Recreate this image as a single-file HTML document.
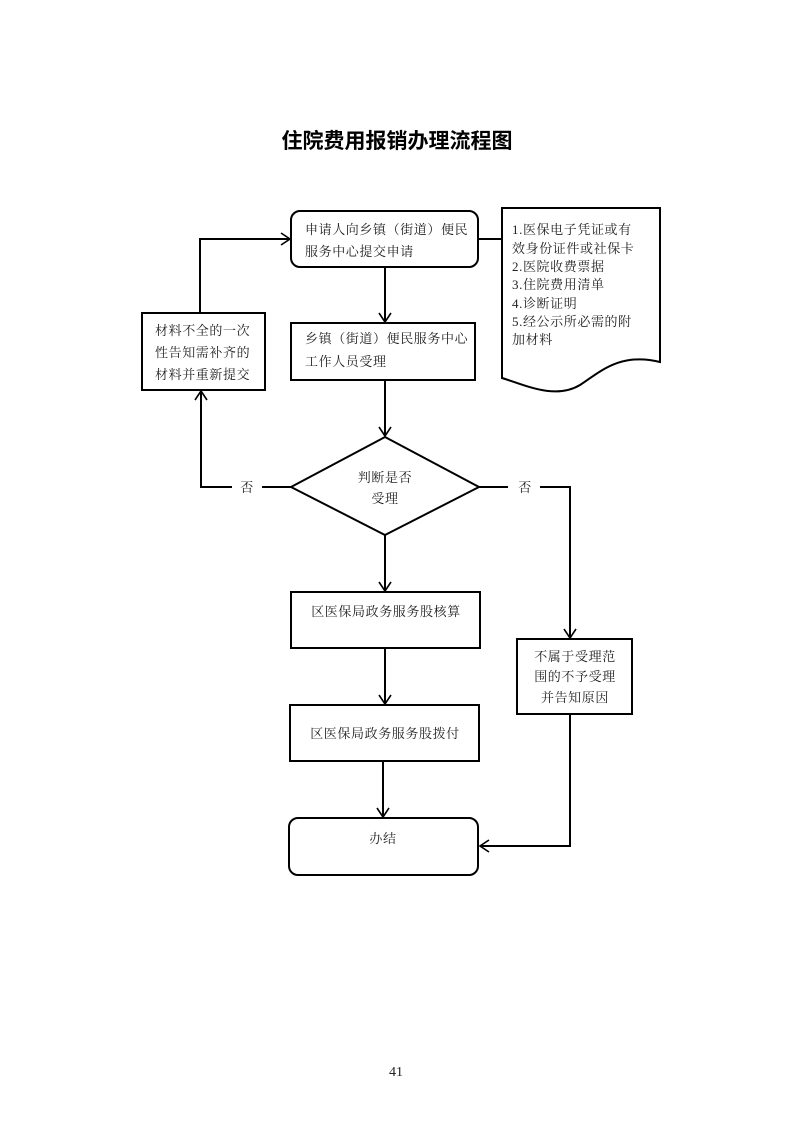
<!DOCTYPE html>
<html><head><meta charset="utf-8"><style>
body{margin:0;background:#fff;}
svg text{font-family:"Liberation Serif","Noto Serif CJK SC","Noto Sans CJK SC",serif;fill:#222;}
</style></head><body>
<svg width="793" height="1122" viewBox="0 0 793 1122" xmlns="http://www.w3.org/2000/svg">
<defs><marker id="a" markerWidth="14" markerHeight="14" refX="10" refY="7" orient="auto" markerUnits="userSpaceOnUse"><path d="M1,1 L10,7 L1,13" fill="none" stroke="#000" stroke-width="1.6"/></marker></defs>
<text x="397" y="148" text-anchor="middle" font-size="21" font-weight="bold" style="font-family:'Noto Sans CJK SC',sans-serif;fill:#000">住院费用报销办理流程图</text>
<g fill="none" stroke="#000" stroke-width="2">
<rect x="291" y="211" width="187" height="56" rx="9"/>
<rect x="291" y="323" width="184" height="57"/>
<rect x="142" y="313" width="123" height="77"/>
<path d="M502,208 L660,208 L660,362 C620,352 600,372 580,385 C555,400 525,385 502,378 Z"/>
<path d="M291,487 L385,437 L479,487 L385,535 Z"/>
<rect x="291" y="592" width="189" height="56"/>
<rect x="290" y="705" width="189" height="56"/>
<rect x="289" y="818" width="189" height="57" rx="9"/>
<rect x="517" y="639" width="115" height="75"/>
<path d="M478,239 L502,239"/>
<path d="M385,267 L385,322" marker-end="url(#a)"/>
<path d="M200,313 L200,239 L290,239" marker-end="url(#a)"/>
<path d="M385,380 L385,436" marker-end="url(#a)"/>
<path d="M291,487 L262,487 M232,487 L201,487 L201,391" marker-end="url(#a)"/>
<path d="M479,487 L508,487 M540,487 L570,487 L570,638" marker-end="url(#a)"/>
<path d="M385,535 L385,591" marker-end="url(#a)"/>
<path d="M385,648 L385,704" marker-end="url(#a)"/>
<path d="M383,761 L383,817" marker-end="url(#a)"/>
<path d="M570,714 L570,846 L480,846" marker-end="url(#a)"/>
</g>
<g font-size="13" letter-spacing="0.6">
<text x="305" y="234">申请人向乡镇（街道）便民</text>
<text x="305" y="256">服务中心提交申请</text>
<text x="305" y="343">乡镇（街道）便民服务中心</text>
<text x="305" y="366">工作人员受理</text>
<text x="155" y="335">材料不全的一次</text>
<text x="155" y="357">性告知需补齐的</text>
<text x="155" y="379">材料并重新提交</text>
<text x="512" y="234">1.医保电子凭证或有</text>
<text x="512" y="253">效身份证件或社保卡</text>
<text x="512" y="271">2.医院收费票据</text>
<text x="512" y="289">3.住院费用清单</text>
<text x="512" y="308">4.诊断证明</text>
<text x="512" y="326">5.经公示所必需的附</text>
<text x="512" y="344">加材料</text>
<text x="385" y="482" text-anchor="middle">判断是否</text>
<text x="385" y="503" text-anchor="middle">受理</text>
<text x="247" y="492" text-anchor="middle">否</text>
<text x="525" y="492" text-anchor="middle">否</text>
<text x="386" y="616" text-anchor="middle">区医保局政务服务股核算</text>
<text x="385" y="738" text-anchor="middle">区医保局政务服务股拨付</text>
<text x="383" y="843" text-anchor="middle">办结</text>
<text x="575" y="661" text-anchor="middle">不属于受理范</text>
<text x="575" y="681" text-anchor="middle">围的不予受理</text>
<text x="575" y="702" text-anchor="middle">并告知原因</text>
</g>
<text x="396" y="1076" text-anchor="middle" font-size="14">41</text>
</svg>
</body></html>
